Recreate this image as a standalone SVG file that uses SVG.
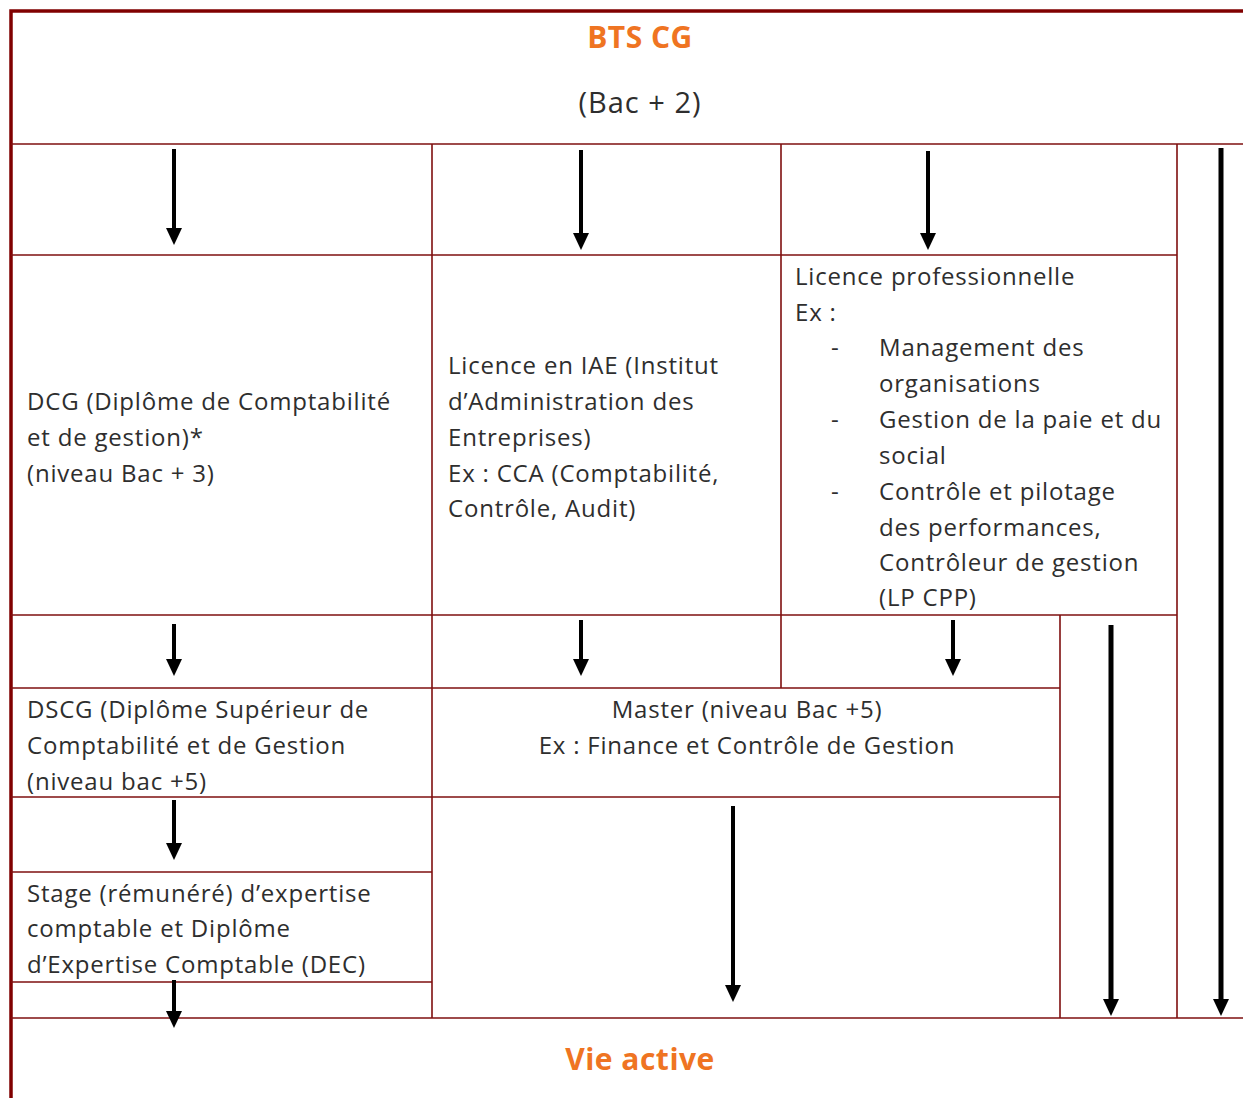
<svg xmlns="http://www.w3.org/2000/svg" width="1243" height="1098" viewBox="0 0 1243 1098">
<defs>
<marker id="ah" viewBox="0 -8 17 16" refX="0" refY="0" markerWidth="17" markerHeight="16" markerUnits="userSpaceOnUse" orient="auto">
<path d="M0,-8 L17,0 L0,8 Z" fill="#000"/>
</marker>
<style>
.g{stroke:#7f1010;stroke-width:1.6;fill:none}
.fr{stroke:#800000;stroke-width:3.5;fill:none}
.t{font-family:"Open Sans","Noto Sans","DejaVu Sans",sans-serif;font-size:24px;letter-spacing:0.8px;fill:#2e2e2e}
.o{font-family:"Open Sans","Noto Sans","DejaVu Sans",sans-serif;font-size:30px;letter-spacing:0.5px;font-weight:bold;fill:#ef7422}
.a{stroke:#000;stroke-width:4;marker-end:url(#ah)}
.A{stroke:#000;stroke-width:5;marker-end:url(#ah)}
</style>
</defs>
<rect width="1243" height="1098" fill="#fff"/>
<g id="grid">
<path class="fr" d="M11,1098 V11 H1243"/>
<path class="g" d="M11,144 H1243 M11,255 H1177 M11,615 H1177 M11,688 H1060 M11,797 H1060 M11,872 H432 M11,982 H432 M11,1018 H1243 M432,144 V1018 M781,144 V688 M1177,144 V1018 M1060,615 V1018"/>
</g>
<g id="bts">
<text class="o" x="640" y="48" text-anchor="middle">BTS CG</text>
<text class="t" x="640" y="113" text-anchor="middle" style="font-size:29px;letter-spacing:1px">(Bac + 2)</text>
</g>
<g id="dcg">
<text class="t" x="27" y="410">DCG (Diplôme de Comptabilité</text>
<text class="t" x="27" y="446">et de gestion)*</text>
<text class="t" x="27" y="482">(niveau Bac + 3)</text>
</g>
<g id="iae">
<text class="t" x="448" y="374">Licence en IAE (Institut</text>
<text class="t" x="448" y="410">d’Administration des</text>
<text class="t" x="448" y="446">Entreprises)</text>
<text class="t" x="448" y="482">Ex : CCA (Comptabilité,</text>
<text class="t" x="448" y="517">Contrôle, Audit)</text>
</g>
<g id="lp">
<text class="t" x="795" y="285">Licence professionnelle</text>
<text class="t" x="795" y="321">Ex :</text>
<text class="t" x="831" y="356">-</text>
<text class="t" x="879" y="356">Management des</text>
<text class="t" x="879" y="392">organisations</text>
<text class="t" x="831" y="428">-</text>
<text class="t" x="879" y="428">Gestion de la paie et du</text>
<text class="t" x="879" y="464">social</text>
<text class="t" x="831" y="500">-</text>
<text class="t" x="879" y="500">Contrôle et pilotage</text>
<text class="t" x="879" y="536">des performances,</text>
<text class="t" x="879" y="571">Contrôleur de gestion</text>
<text class="t" x="879" y="606">(LP CPP)</text>
</g>
<g id="dscg">
<text class="t" x="27" y="718">DSCG (Diplôme Supérieur de</text>
<text class="t" x="27" y="754">Comptabilité et de Gestion</text>
<text class="t" x="27" y="790">(niveau bac +5)</text>
</g>
<g id="master">
<text class="t" x="747" y="718" text-anchor="middle">Master (niveau Bac +5)</text>
<text class="t" x="747" y="754" text-anchor="middle">Ex : Finance et Contrôle de Gestion</text>
</g>
<g id="stage">
<text class="t" x="27" y="902">Stage (rémunéré) d’expertise</text>
<text class="t" x="27" y="937">comptable et Diplôme</text>
<text class="t" x="27" y="973">d’Expertise Comptable (DEC)</text>
</g>
<g id="vie">
<text class="o" x="640" y="1070" text-anchor="middle">Vie active</text>
</g>
<g id="connectors">
<line class="a" x1="174" y1="149" x2="174" y2="228"/>
<line class="a" x1="581" y1="150" x2="581" y2="233"/>
<line class="a" x1="928" y1="151" x2="928" y2="233"/>
<line class="A" x1="1221" y1="148" x2="1221" y2="999"/>
<line class="a" x1="174" y1="624" x2="174" y2="659"/>
<line class="a" x1="581" y1="620" x2="581" y2="659"/>
<line class="a" x1="953" y1="620" x2="953" y2="659"/>
<line class="A" x1="1111" y1="625" x2="1111" y2="999"/>
<line class="a" x1="174" y1="800" x2="174" y2="843"/>
<line class="a" x1="733" y1="806" x2="733" y2="985"/>
<line class="a" x1="174" y1="980" x2="174" y2="1011"/>
</g>
</svg>
